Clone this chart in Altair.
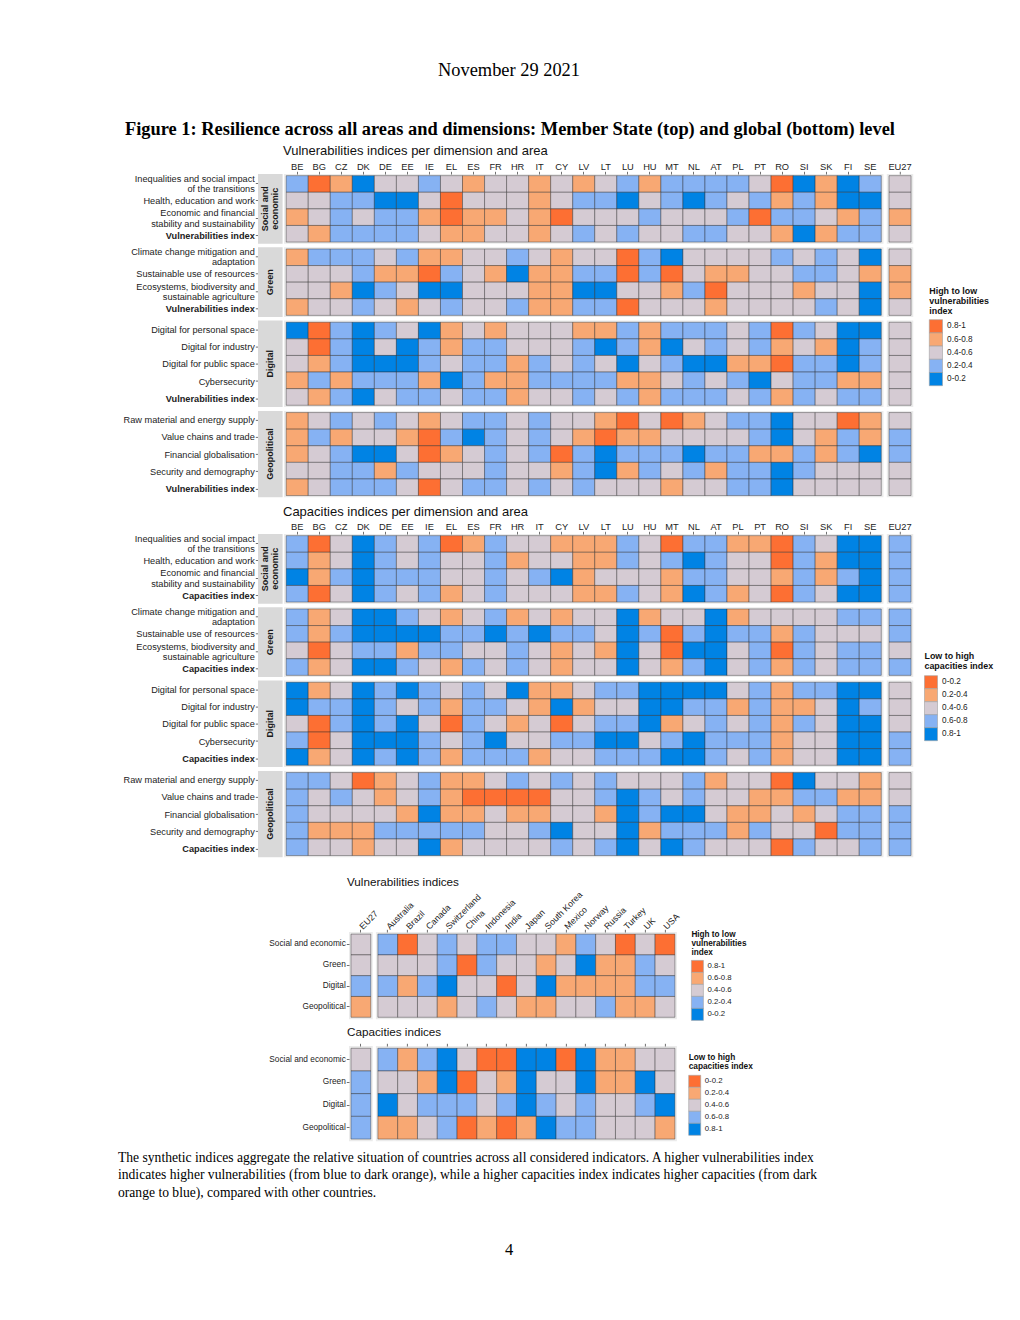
import altair as alt
import pandas as pd

# ---------------- data ----------------
MEMBER_STATES = ["BE", "BG", "CZ", "DK", "DE", "EE", "IE", "EL", "ES", "FR", "HR", "IT", "CY",
                 "LV", "LT", "LU", "HU", "MT", "NL", "AT", "PL", "PT", "RO", "SI", "SK", "FI", "SE"]
EU = ["EU27"]
PARTNERS = ["Australia", "Brazil", "Canada", "Switzerland", "China", "Indonesia", "India",
            "Japan", "South Korea", "Mexico", "Norway", "Russia", "Turkey", "UK", "USA"]
BINS = ["0-0.2", "0.2-0.4", "0.4-0.6", "0.6-0.8", "0.8-1"]
AREAS = ["Social and economic", "Green", "Digital", "Geopolitical"]

SOCIAL_ITEMS = ["Inequalities and social impact|of the transitions", "Health, education and work",
                "Economic and financial|stability and sustainability"]
GREEN_ITEMS = ["Climate change mitigation and|adaptation", "Sustainable use of resources",
               "Ecosystems, biodiversity and|sustainable agriculture"]
DIGITAL_ITEMS = ["Digital for personal space", "Digital for industry", "Digital for public space",
                 "Cybersecurity"]
GEO_ITEMS = ["Raw material and energy supply", "Value chains and trade", "Financial globalisation",
             "Security and demography"]

# bin number per cell: 1 = 0-0.2 ... 5 = 0.8-1 ; columns = MEMBER_STATES + EU27
VULN_SOCIAL = [
    [2, 5, 4, 1, 3, 3, 2, 3, 4, 3, 3, 4, 3, 4, 3, 2, 4, 2, 2, 2, 2, 3, 5, 1, 4, 1, 2, 3],
    [3, 3, 2, 2, 1, 1, 3, 5, 3, 3, 3, 4, 3, 2, 2, 1, 3, 2, 1, 2, 3, 2, 4, 2, 4, 1, 1, 3],
    [4, 3, 2, 3, 2, 2, 4, 5, 4, 4, 3, 4, 5, 3, 3, 3, 2, 3, 3, 3, 2, 5, 2, 2, 3, 4, 2, 4],
    [3, 4, 2, 2, 2, 2, 3, 4, 4, 3, 3, 4, 3, 2, 3, 2, 3, 3, 2, 2, 3, 3, 4, 1, 4, 2, 2, 3],
]
VULN_GREEN = [
    [4, 2, 2, 2, 3, 2, 4, 4, 3, 3, 2, 3, 4, 3, 3, 5, 2, 1, 3, 3, 3, 3, 2, 3, 2, 3, 1, 3],
    [3, 3, 3, 2, 4, 4, 5, 2, 3, 4, 1, 4, 4, 2, 2, 5, 2, 5, 3, 4, 4, 3, 3, 2, 2, 3, 4, 4],
    [3, 3, 4, 1, 2, 3, 1, 1, 3, 3, 3, 4, 4, 1, 1, 3, 3, 4, 2, 5, 3, 3, 3, 4, 3, 3, 1, 4],
    [4, 3, 3, 2, 3, 4, 3, 2, 3, 3, 2, 4, 4, 2, 2, 5, 3, 3, 3, 4, 3, 3, 3, 3, 2, 3, 1, 3],
]
VULN_DIGITAL = [
    [1, 5, 2, 1, 2, 3, 1, 4, 3, 4, 3, 3, 3, 4, 4, 2, 4, 2, 2, 2, 3, 2, 5, 2, 3, 1, 1, 3],
    [3, 5, 2, 1, 3, 1, 2, 4, 2, 2, 3, 3, 3, 2, 1, 2, 4, 1, 3, 2, 3, 2, 4, 3, 4, 1, 2, 3],
    [3, 4, 2, 1, 1, 1, 2, 3, 2, 2, 4, 2, 3, 2, 3, 1, 3, 2, 1, 1, 4, 4, 5, 2, 2, 1, 2, 3],
    [4, 2, 4, 2, 2, 2, 4, 1, 2, 4, 4, 2, 2, 2, 2, 4, 4, 3, 2, 3, 2, 1, 3, 2, 2, 4, 4, 3],
    [3, 4, 2, 1, 3, 2, 2, 3, 2, 2, 4, 3, 3, 2, 3, 2, 4, 2, 2, 2, 3, 2, 4, 2, 3, 2, 2, 3],
]
VULN_GEO = [
    [4, 3, 2, 3, 2, 3, 4, 3, 2, 2, 3, 2, 3, 3, 4, 5, 3, 5, 4, 3, 2, 2, 1, 3, 3, 5, 4, 3],
    [4, 2, 4, 3, 3, 4, 5, 2, 1, 2, 3, 2, 3, 4, 5, 4, 4, 3, 3, 3, 3, 2, 1, 3, 4, 2, 4, 2],
    [4, 3, 2, 1, 1, 3, 5, 4, 3, 2, 3, 2, 5, 2, 1, 2, 2, 2, 1, 2, 2, 4, 4, 2, 4, 2, 1, 2],
    [3, 3, 2, 2, 4, 2, 3, 3, 3, 2, 3, 3, 4, 2, 1, 4, 2, 3, 2, 4, 2, 2, 1, 2, 3, 3, 3, 3],
    [4, 3, 2, 2, 2, 3, 5, 3, 2, 2, 3, 2, 3, 2, 3, 3, 3, 4, 3, 3, 2, 2, 1, 3, 3, 3, 3, 3],
]
CAP_SOCIAL = [
    [4, 1, 3, 5, 4, 3, 4, 1, 2, 4, 3, 3, 2, 2, 2, 4, 3, 1, 4, 4, 2, 2, 1, 4, 3, 5, 5, 4],
    [4, 2, 3, 5, 4, 3, 4, 3, 3, 4, 2, 3, 3, 2, 2, 4, 3, 4, 5, 4, 3, 3, 1, 4, 2, 5, 5, 4],
    [5, 2, 4, 5, 4, 4, 4, 3, 3, 4, 3, 4, 5, 2, 3, 3, 3, 2, 4, 4, 3, 3, 2, 4, 2, 4, 5, 4],
    [4, 1, 3, 5, 4, 3, 4, 2, 3, 4, 3, 3, 3, 2, 2, 4, 3, 2, 5, 4, 2, 3, 1, 4, 3, 5, 5, 4],
]
CAP_GREEN = [
    [4, 2, 3, 5, 5, 4, 3, 2, 3, 4, 2, 3, 2, 3, 3, 5, 2, 3, 3, 5, 2, 3, 3, 3, 3, 4, 4, 4],
    [4, 2, 4, 5, 5, 5, 5, 4, 4, 5, 4, 5, 4, 4, 3, 5, 4, 1, 4, 5, 4, 4, 2, 4, 3, 3, 3, 4],
    [3, 1, 3, 4, 4, 2, 4, 4, 3, 3, 4, 3, 2, 3, 2, 5, 3, 1, 5, 5, 3, 4, 1, 4, 3, 4, 4, 3],
    [4, 2, 3, 5, 5, 4, 3, 2, 4, 3, 4, 3, 2, 3, 3, 5, 3, 2, 4, 5, 3, 4, 2, 4, 3, 4, 4, 4],
]
CAP_DIGITAL = [
    [5, 2, 3, 5, 4, 5, 4, 3, 4, 3, 5, 2, 2, 3, 4, 4, 5, 5, 5, 5, 3, 4, 2, 4, 4, 5, 5, 3],
    [5, 4, 4, 5, 4, 3, 4, 2, 4, 4, 3, 2, 5, 2, 3, 3, 5, 5, 4, 4, 2, 4, 2, 2, 3, 5, 4, 3],
    [3, 1, 4, 5, 4, 5, 3, 1, 4, 3, 2, 3, 1, 3, 4, 4, 5, 2, 3, 4, 3, 4, 2, 4, 3, 5, 5, 3],
    [4, 1, 3, 5, 5, 5, 4, 3, 4, 5, 3, 3, 4, 4, 5, 5, 3, 4, 5, 4, 4, 4, 2, 3, 3, 5, 5, 4],
    [5, 2, 3, 5, 4, 5, 4, 2, 4, 4, 4, 2, 3, 3, 4, 4, 4, 5, 5, 4, 3, 4, 2, 3, 3, 5, 5, 4],
]
CAP_GEO = [
    [4, 4, 3, 1, 2, 3, 4, 2, 2, 3, 4, 3, 4, 3, 4, 3, 3, 3, 4, 2, 3, 3, 1, 5, 3, 3, 2, 3],
    [4, 3, 4, 3, 2, 3, 4, 2, 1, 1, 1, 1, 3, 3, 4, 5, 4, 3, 4, 3, 3, 2, 2, 4, 4, 2, 2, 3],
    [4, 3, 3, 3, 3, 2, 5, 2, 2, 3, 2, 2, 3, 3, 2, 5, 4, 5, 5, 3, 2, 2, 3, 2, 3, 4, 4, 4],
    [4, 2, 2, 2, 4, 4, 4, 4, 4, 3, 3, 4, 5, 3, 3, 5, 2, 4, 4, 4, 2, 4, 3, 3, 1, 4, 4, 4],
    [4, 3, 3, 2, 3, 3, 5, 2, 3, 3, 3, 3, 4, 3, 4, 5, 3, 5, 4, 3, 3, 3, 1, 4, 3, 3, 4, 4],
]
# columns = EU27 + PARTNERS ; rows = AREAS
GLOBAL_VULN = [
    [3, 2, 5, 3, 2, 3, 2, 2, 3, 3, 4, 2, 3, 5, 3, 5],
    [3, 3, 3, 3, 2, 5, 2, 3, 3, 4, 3, 1, 4, 4, 2, 3],
    [2, 2, 4, 2, 1, 3, 3, 5, 3, 1, 4, 4, 4, 4, 2, 2],
    [4, 3, 3, 3, 4, 3, 2, 3, 4, 4, 3, 3, 2, 4, 4, 3],
]
GLOBAL_CAP = [
    [3, 4, 2, 4, 5, 3, 1, 1, 5, 5, 1, 5, 2, 2, 3, 3],
    [4, 3, 3, 2, 5, 1, 3, 2, 5, 3, 3, 5, 2, 2, 5, 3],
    [4, 5, 3, 4, 4, 4, 3, 4, 5, 4, 3, 4, 3, 3, 4, 5],
    [4, 2, 2, 3, 4, 1, 2, 1, 2, 5, 4, 4, 3, 3, 3, 2],
]

# ---------------- styling ----------------
FONT = "Liberation Sans"
SERIF = "Liberation Serif"
DO, LO, GR, LB, BL = "#FD6F33", "#F8A873", "#D5CBD3", "#86B2F3", "#0083E4"
V_SCALE = dict(domain=BINS[::-1], range=[DO, LO, GR, LB, BL])
C_SCALE = dict(domain=BINS, range=[DO, LO, GR, LB, BL])
ONE = alt.Data(values=[{}])

# layout (px)
MS_SX, MS_SY = 22.04, 16.6
GL_SX = 19.8
T_MS = 12.0        # overflow of the member-state column labels above the panels
T_GV = 47.4        # overflow of the rotated partner labels
T_GC = 3.5         # tick-only axis
B_GV = 1.0         # legend overflow below the global vulnerabilities panel
MS_LEFT = 114.6    # spacer so that the strips start at x = 249.7
GL_LEFT = 260.0    # spacer so that the EU27 panel starts at x = 340.3


def tidy(rows, cols, values):
    return pd.DataFrame([{"row": r, "col": c, "bin": BINS[v - 1]}
                         for r, vals in zip(rows, values) for c, v in zip(cols, vals)])


def blank(w, h):
    return alt.Chart(ONE).mark_rect(opacity=0).encode(
        x=alt.value(0), x2=alt.value(0), y=alt.value(0), y2=alt.value(0)).properties(width=w, height=h)


def band(domain):
    return alt.Scale(domain=domain, paddingInner=0, paddingOuter=0.1)


def top_axis(labels=True, size=9.3, angle=0, align="center", baseline="bottom", pad=0):
    return alt.Axis(orient="top", labels=labels, labelAngle=angle, labelAlign=align,
                    labelBaseline=baseline, labelFontSize=size, labelColor="#222",
                    labelPadding=pad, tickSize=2.7, tickColor="#333", tickWidth=0.7,
                    domain=False, grid=False)


def row_axis(index_name, size, lh):
    return alt.Axis(orient="left", labelExpr="split(datum.label, '|')", labelFontSize=size,
                    labelLineHeight=lh, labelColor="#222", labelPadding=1, labelLimit=400,
                    labelFontWeight={"condition": {"test": f"datum.value == '{index_name}'",
                                                   "value": "bold"}, "value": "normal"},
                    labelOffset={"condition": {"test": "indexof(datum.value, '|') >= 0",
                                               "value": -4.6}, "value": 0},
                    tickSize=2.7, tickColor="#333", tickWidth=0.7, domain=False, grid=False)


def heat(df, cols, rows, sx, sy, scale, xaxis=None, yaxis=None):
    w = (len(cols) + 0.2) * sx
    h = (len(rows) + 0.2) * sy
    return alt.Chart(df).mark_rect(stroke="#222222", strokeWidth=0.6, strokeOpacity=0.65).encode(
        x=alt.X("col:N", scale=band(cols), axis=xaxis, title=None),
        y=alt.Y("row:N", scale=band(rows), axis=yaxis, title=None),
        fill=alt.Fill("bin:N", scale=alt.Scale(**scale), legend=None),
    ).properties(width=w, height=h, view=alt.ViewBackground(fill="#EBEBEB", strokeWidth=0))


def strip(rows, label, sy, index_name):
    h = (len(rows) + 0.2) * sy
    n = len(label) if isinstance(label, list) else 1
    bg = alt.Chart(ONE).mark_rect(fill="#D9D9D9").encode(
        x=alt.value(0), x2=alt.value(24.6), y=alt.value(0), y2=alt.value(h))
    ax = alt.Chart(pd.DataFrame({"row": rows})).mark_point(opacity=0, size=1).encode(
        y=alt.Y("row:N", scale=band(rows), axis=row_axis(index_name, 9.2, 10.5), title=None))
    txt = alt.Chart(ONE).mark_text(text=label, angle=270, fontSize=9, fontWeight="bold",
                                   lineHeight=10, color="#1A1A1A", align="center",
                                   baseline="middle").encode(
        x=alt.value(12.3 - (n - 1) * 5), y=alt.value(h / 2))
    return alt.layer(bg, ax, txt).properties(width=25.1, height=h)


def legend_holder(scale, title, lx, ly, y0, tsize, tlh, lsize, sym, loff):
    df = pd.DataFrame({"bin": scale["domain"]})
    ys = alt.Y("bin:N", scale=alt.Scale(domain=scale["domain"], range=[y0, y0 + 5 * sym],
                                        paddingInner=0, paddingOuter=0), axis=None, title=None)
    sw = alt.Chart(df).mark_rect(stroke="#A0A0A0", strokeWidth=0.6).encode(
        x=alt.value(lx), x2=alt.value(lx + sym), y=ys,
        fill=alt.Fill("bin:N", scale=alt.Scale(**scale), legend=None))
    lab = alt.Chart(df).mark_text(align="left", baseline="middle", fontSize=lsize,
                                  color="#222").encode(x=alt.value(lx + sym + loff), y=ys,
                                                       text="bin:N")
    ttl = alt.Chart(ONE).mark_text(text=title, align="left", baseline="top", fontSize=tsize,
                                   fontWeight="bold", lineHeight=tlh, color="#111").encode(
        x=alt.value(lx), y=alt.value(ly))
    return alt.layer(sw, lab, ttl).properties(width=1, height=1)


def ind(c):
    return c.resolve_scale(fill="independent")


def block(items, index_name, label, values, scale, top=False):
    rows = items + [index_name]
    df = tidy(rows, MEMBER_STATES + EU, values)
    main = heat(df[df.col != "EU27"], MEMBER_STATES, rows, MS_SX, MS_SY, scale,
                xaxis=top_axis() if top else None)
    eu = heat(df[df.col == "EU27"], EU, rows, MS_SX, MS_SY, scale,
              xaxis=top_axis() if top else None)
    inner = ind(alt.hconcat(main, eu, spacing=2.8, bounds="flush"))
    return ind(alt.hconcat(strip(rows, label, MS_SY, index_name), inner, spacing=0))


def section(index_name, sets, scale, holder):
    blocks = [block(items, index_name, label, values, scale, top=(i == 0))
              for i, (items, label, values) in enumerate(sets)]
    sec = ind(alt.vconcat(*blocks, spacing=3.3))
    return ind(alt.hconcat(blank(MS_LEFT, 1), sec, holder, spacing=0))


def global_row(values, scale, sy, labelled, holder):
    df = tidy(AREAS, EU + PARTNERS, values)
    if labelled:
        xa = lambda: top_axis(size=8.8, angle=315, align="left", baseline="middle", pad=2)
    else:
        xa = lambda: top_axis(labels=False)
    eu = heat(df[df.col == "EU27"], EU, AREAS, GL_SX, sy, scale, xaxis=xa(),
              yaxis=alt.Axis(orient="left", labelFontSize=8.3, labelColor="#222", labelPadding=1,
                             labelLimit=300, tickSize=2.7, tickColor="#333", tickWidth=0.7,
                             domain=False, grid=False))
    main = heat(df[df.col != "EU27"], PARTNERS, AREAS, GL_SX, sy, scale, xaxis=xa())
    inner = ind(alt.hconcat(eu, main, spacing=2.9, bounds="flush"))
    return ind(alt.hconcat(blank(GL_LEFT, 1), inner, holder, spacing=0))


def texts(w, h, items):
    layers = [alt.Chart(ONE).mark_text(text=t, **style).encode(x=alt.value(x), y=alt.value(y))
              for t, x, y, style in items]
    return alt.layer(*layers).properties(width=w, height=h)


SANS_T = dict(font=FONT, align="left", baseline="middle", color="#111")
header = texts(1004, 165.3 - T_MS, [
    ("November 29 2021", 501, 62, dict(font=SERIF, fontSize=18.4, align="center",
                                       baseline="middle", color="#000")),
    ("Figure 1: Resilience across all areas and dimensions: Member State (top) and global (bottom) level",
     502, 121, dict(font=SERIF, fontSize=18.4, fontWeight="bold", align="center",
                    baseline="middle", color="#000")),
    ("Vulnerabilities indices per dimension and area", 275, 143, dict(fontSize=13, **SANS_T)),
])
gap1 = texts(1004, 36 - T_MS, [("Capacities indices per dimension and area", 275, 13.7,
                                dict(fontSize=13, **SANS_T))])
gap2 = texts(1004, 76 - T_GV, [("Vulnerabilities indices", 339, 23.7, dict(fontSize=11.7, **SANS_T))])
gap3 = texts(1004, 25.3 - T_GC - B_GV, [("Capacities indices", 339, 12.3 - B_GV,
                                         dict(fontSize=11.7, **SANS_T))])
CAP = dict(font=SERIF, fontSize=13.6, align="left", baseline="middle", color="#000")
footer = texts(1004, 160, [
    ("The synthetic indices aggregate the relative situation of countries across all considered "
     "indicators. A higher vulnerabilities index", 110, 15.7, CAP),
    ("indicates higher vulnerabilities (from blue to dark orange), while a higher capacities index "
     "indicates higher capacities (from dark", 110, 33.4, CAP),
    ("orange to blue), compared with other countries.", 110, 51.1, CAP),
    ("4", 501, 107.7, dict(font=SERIF, fontSize=16.5, align="center", baseline="middle",
                           color="#000")),
])

vuln_sec = section("Vulnerabilities index", [
    (SOCIAL_ITEMS, ["Social and", "economic"], VULN_SOCIAL),
    (GREEN_ITEMS, "Green", VULN_GREEN),
    (DIGITAL_ITEMS, "Digital", VULN_DIGITAL),
    (GEO_ITEMS, "Geopolitical", VULN_GEO),
], V_SCALE, legend_holder(V_SCALE, ["High to low", "vulnerabilities", "index"],
                          15.3, 113.2, 145.7, 8.9, 10, 8.2, 13.2, 4.6))

cap_sec = section("Capacities index", [
    (SOCIAL_ITEMS, ["Social and", "economic"], CAP_SOCIAL),
    (GREEN_ITEMS, "Green", CAP_GREEN),
    (DIGITAL_ITEMS, "Digital", CAP_DIGITAL),
    (GEO_ITEMS, "Geopolitical", CAP_GEO),
], C_SCALE, legend_holder(C_SCALE, ["Low to high", "capacities index"],
                          10.5, 117.9, 141.7, 8.9, 10, 8.2, 13.0, 4.6))

g_vuln = global_row(GLOBAL_VULN, V_SCALE, 20.8, True,
                    legend_holder(V_SCALE, ["High to low", "vulnerabilities", "index"],
                                  10.4, -0.6, 28.4, 8.2, 8.8, 7.8, 12, 4))
g_cap = global_row(GLOBAL_CAP, C_SCALE, 22.7, False,
                   legend_holder(C_SCALE, ["Low to high", "capacities index"],
                                 11.7, 7.2, 29.3, 8.3, 9.3, 7.8, 12, 4))

chart = ind(alt.vconcat(header, vuln_sec, gap1, cap_sec, gap2, g_vuln, gap3, g_cap, footer,
                        spacing=0)).properties(padding=0).configure(
    font=FONT).configure_view(strokeWidth=0)

chart.save("out.html", embed_options={"renderer": "svg", "actions": False})
